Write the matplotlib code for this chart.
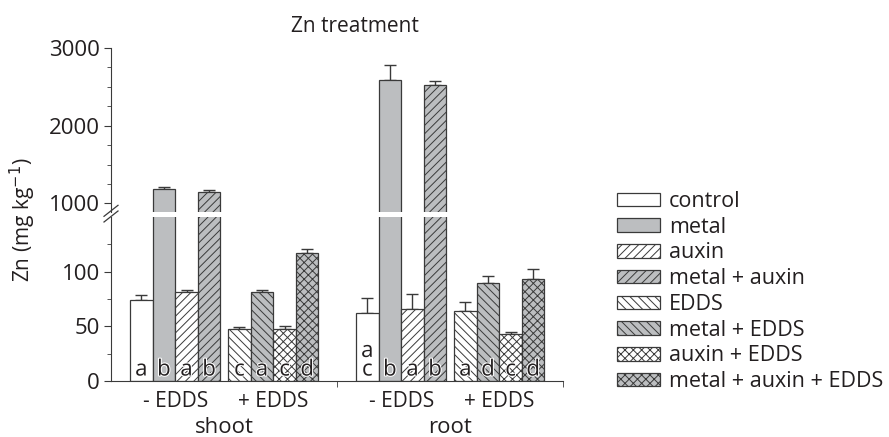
import matplotlib.pyplot as plt
import matplotlib.patheffects as pe
from matplotlib.lines import Line2D
import numpy as np

plt.rcParams['font.family'] = ['Open Sans', 'DejaVu Sans']
plt.rcParams['font.size'] = 15
plt.rcParams['hatch.linewidth'] = 0.7
plt.rcParams['hatch.color'] = '#3a3a3a'

# data
treatments = ['control', 'metal', 'auxin', 'metal + auxin',
              'EDDS', 'metal + EDDS', 'auxin + EDDS', 'metal + auxin + EDDS']
shoot_mean = [74, 1185, 81, 1141, 48, 81, 48, 117]
shoot_err = [5, 21, 2.5, 26, 1.5, 2.5, 2, 4]
root_mean = [62, 2592, 66, 2528, 64, 90, 43, 93]
root_err = [14, 189, 14, 51, 8, 6.5, 2, 9]
shoot_letters = ['a', 'b', 'a', 'b', 'c', 'a', 'c', 'd']
root_letters = ['a\nc', 'b', 'a', 'b', 'a', 'd', 'c', 'd']
group_labels = ['- EDDS', '+ EDDS', '- EDDS', '+ EDDS']
tissue_labels = ['shoot', 'root']

gray = '#bcbec0'
edge = '#3a3a3a'
txt = '#231f20'
fills = ['white', gray, 'white', gray, 'white', gray, 'white', gray]
hatches = [None, None, '////', '////', '\\\\\\\\', '\\\\\\\\', 'xxxx', 'xxxx']

# bar centres
starts = [0.84, 5.18, 10.84, 15.18]
xs = []
for s in starts:
    xs += [s + i + 0.5 for i in range(4)]
xs = np.array(xs)
means = np.array(shoot_mean + root_mean)
errs = np.array(shoot_err + root_err)
letters = shoot_letters + root_letters

fig = plt.figure(figsize=(8.89, 4.37), dpi=100)
ax_top = fig.add_axes([0.1249, 0.5149, 0.5084, 0.3753])
ax_bot = fig.add_axes([0.1249, 0.1281, 0.5084, 0.3753])

handles = []
for ax in (ax_top, ax_bot):
    for k in range(len(xs)):
        j = k % 8
        b = ax.bar(xs[k], means[k], width=1.0, color=fills[j], edgecolor=edge,
                   linewidth=0.9, hatch=hatches[j], zorder=2)
        if ax is ax_bot and k < 8:
            handles.append(b)
    ax.errorbar(xs, means, yerr=[np.zeros_like(errs), errs], fmt='none',
                ecolor=edge, elinewidth=1.0, capsize=4, capthick=1.0, zorder=1)
    ax.set_xlim(0, 20)
    for sp in ['top', 'right']:
        ax.spines[sp].set_visible(False)
    ax.spines['left'].set_color(edge)
    ax.spines['bottom'].set_color(edge)
    ax.tick_params(axis='y', which='major', length=5, color=edge, labelsize=16,
                   labelcolor=txt, pad=3)
    ax.tick_params(axis='y', which='minor', length=3, color=edge)

ax_top.set_ylim(890, 3000)
ax_top.set_yticks([1000, 2000, 3000])
ax_top.set_yticks(np.arange(1250, 3000, 250), minor=True)
ax_top.spines['bottom'].set_visible(False)
ax_top.set_xticks([])

ax_bot.set_ylim(0, 150)
ax_bot.set_yticks([0, 50, 100])
ax_bot.set_yticks([25, 75, 125], minor=True)
ax_bot.set_xticks([])
ax_bot.set_xticks([10, 20], minor=True)
ax_bot.tick_params(axis='x', which='minor', length=4, color=edge)

# letters inside bars
for k in range(len(xs)):
    ax_bot.text(xs[k], 5, letters[k], ha='center', va='baseline', fontsize=16,
                color=txt, linespacing=0.85, zorder=5,
                path_effects=[pe.withStroke(linewidth=1.5, foreground='white')])

# group labels
for g in range(4):
    ax_bot.text(starts[g] + 2.0, -9, group_labels[g], ha='center', va='top',
                fontsize=15, color=txt)
for t in range(2):
    ax_bot.text(5.0 + 10 * t, -33, tissue_labels[t], ha='center', va='top',
                fontsize=16, color=txt)

# axis break marks
for dy in (0.0, 0.013):
    fig.add_artist(Line2D([104 / 889, 118 / 889],
                          [1 - (222 - dy * 437) / 437, 1 - (211 - dy * 437) / 437],
                          color=edge, linewidth=0.9))

fig.text(355 / 889, 1 - 27 / 437, 'Zn treatment', ha='center', va='center',
         fontsize=15, color=txt)
fig.text(23 / 889, 1 - 220 / 437, 'Zn (mg kg$^{-1}$)', rotation=90, ha='center',
         va='center', fontsize=15, color=txt)

leg = fig.legend(handles, treatments, loc='upper left',
                 bbox_to_anchor=(617 / 889, 1 - 191 / 437), frameon=False,
                 fontsize=15.5, handlelength=2.0, handleheight=0.6,
                 labelspacing=0.22, handletextpad=0.4, borderaxespad=0,
                 borderpad=0)
for t in leg.get_texts():
    t.set_color(txt)

fig.savefig('out.png', dpi=100)
